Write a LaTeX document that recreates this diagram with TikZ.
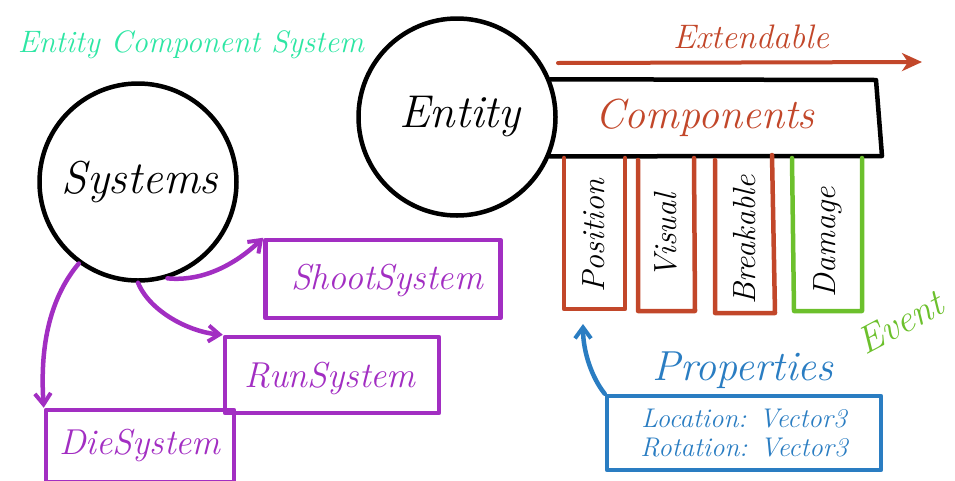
\documentclass[tikz,border=0pt]{standalone}
\usepackage{fontspec}
\usetikzlibrary{arrows.meta}
\definecolor{ecsgreen}{HTML}{2EE6A4}
\definecolor{ecsred}{HTML}{C2472A}
\definecolor{ecspurple}{HTML}{A22EC2}
\definecolor{ecsblue}{HTML}{2A7DC2}
\definecolor{ecslime}{HTML}{6CC02C}
\newcommand{\fs}[1]{\fontsize{#1}{#1}\selectfont\itshape}
\tikzset{
  ink/.style={line width=4.5pt, line cap=round, line join=round},
  bigcircle/.style={circle, draw, ink, minimum size=197pt, inner sep=0pt},
  sysbox/.style={draw=ecspurple, ink, rectangle, inner sep=0pt},
  barb/.style={-{Straight Barb[length=11pt,width=16pt,line width=4pt]}},
  label/.style={inner sep=0pt, anchor=center},
}
\begin{document}
\begin{tikzpicture}[x=1pt,y=-1pt]
\useasboundingbox (0,0) rectangle (955,480);

% title
\node[label, text=ecsgreen] (title) at (191,45) {\fs{31}Entity Component System};

% systems and entity circles
\node[bigcircle] (sys) at (138,182) {};
\node[label] (systxt) at (140,182) {\fs{46}Systems};
\node[bigcircle] (ent) at (457,117) {};
\node[label] (enttxt) at (460,117) {\fs{46}Entity};

% components bar attached to the entity
\draw[ink] (ent.22) -- (876,80) -- (882,156) -- (ent.-23);
\node[label, text=ecsred] (comp) at (705,118) {\fs{42}Components};

% extendable arrow
\coordinate (extA) at (558,63);
\coordinate (extB) at (922,62);
\draw[ecsred, line width=4pt, line cap=round, -{Stealth[length=20pt,width=18pt,inset=6pt]}] (extA) -- (extB);
\node[label, text=ecsred] (ext) at (751,37) {\fs{34}Extendable};

% component columns, open at the top
\draw[ecsred, ink] (564,158) -- (564,309) -- (625,309) -- (625,158);
\node[label, rotate=90] (pos) at (594,236) {\fs{32}Position};
\draw[ecsred, ink] (638,160) -- (638,311) -- (695,311) -- (694,158);
\node[label, rotate=90] (vis) at (666,236) {\fs{32}Visual};
\draw[ecsred, ink] (715,160) -- (715,313) -- (775,313) -- (772,155);
\node[label, rotate=90] (brk) at (745,240) {\fs{32}Breakable};
\draw[ecslime, ink] (792,158) -- (794,311) -- (862,311) -- (862,158);
\node[label, rotate=90] (dmg) at (828,242) {\fs{32}Damage};

% event label
\node[label, text=ecslime, rotate=28] (event) at (900,322) {\fs{38}Event};

% properties
\node[label, text=ecsblue] (proptitle) at (743,370) {\fs{42}Properties};
\node[draw=ecsblue, ink, minimum width=274pt, minimum height=74pt, inner sep=0pt, align=center, text=ecsblue,
      font=\fontsize{27}{29}\selectfont\itshape]
  (props) at (744,433) {Location: Vector3\\Rotation: Vector3};
\coordinate (postip) at (583,324);
\draw[ecsblue, ink, barb] (props.north west) .. controls (592,378) and (583,352) .. (postip);

% system boxes
\node[sysbox, minimum width=235pt, minimum height=78pt] (shoot) at (383,279) {};
\node[label, text=ecspurple] (shoottxt) at (387,280) {\fs{36}ShootSystem};
\node[sysbox, minimum width=214pt, minimum height=76pt] (run) at (332,375) {};
\node[label, text=ecspurple] (runtxt) at (330,378) {\fs{36}RunSystem};
\node[sysbox, minimum width=188pt, minimum height=72pt] (die) at (140,446) {};
\node[label, text=ecspurple] (dietxt) at (140,445) {\fs{36}DieSystem};

% system arrows
\draw[ecspurple, ink, barb] (sys.-73) .. controls (205,282) and (238,262) .. (shoot.north west);
\draw[ecspurple, ink, barb] (sys.-90) .. controls (150,312) and (190,332) .. (run.north west);
\draw[ecspurple, ink, barb] (sys.-126) .. controls (48,300) and (40,350) .. (die.north west);
\end{tikzpicture}
\end{document}
